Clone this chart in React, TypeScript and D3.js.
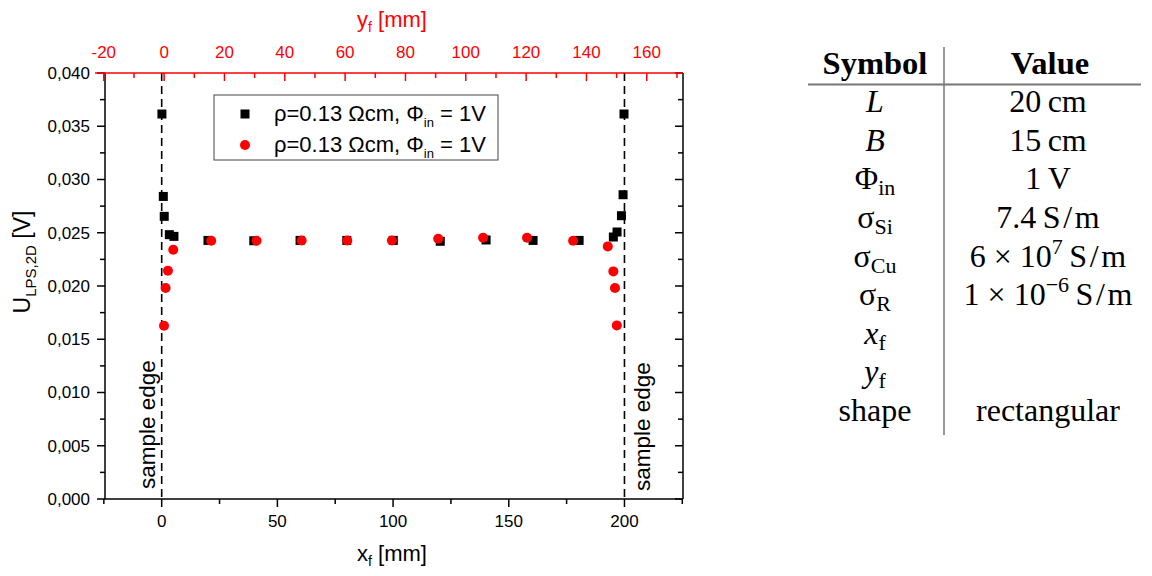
import React from "react";
import * as d3 from "d3";

const blackX = [0.1, 0.7, 1.1, 3.3, 5.3, 20, 39.8, 59.8, 80, 100.1, 120.4, 140.2, 160.5, 180.4, 195.2, 196.8, 198.7, 199.4, 199.8];
const blackY = [0.03615, 0.02841, 0.02654, 0.02482, 0.02466, 0.02428, 0.02425, 0.02428, 0.02428, 0.02428, 0.0242, 0.02432, 0.02428, 0.02428, 0.0246, 0.02507, 0.0266, 0.02857, 0.03615];
const redX = [1.0, 1.7, 2.7, 5.0, 21.4, 41.0, 60.5, 80.2, 99.5, 119.5, 138.9, 157.9, 177.8, 192.8, 195.2, 195.9, 196.7];
const redY = [0.01627, 0.01981, 0.02144, 0.02341, 0.02425, 0.02425, 0.02428, 0.02428, 0.02428, 0.02444, 0.02453, 0.02453, 0.02425, 0.02372, 0.02137, 0.01981, 0.0163];

const bottomMajor = [0, 50, 100, 150, 200];
const bottomMinor = [-25, 25, 75, 125, 175, 225];
const topMajor = [-20, 0, 20, 40, 60, 80, 100, 120, 140, 160];
const topMinor = [-10, 10, 30, 50, 70, 90, 110, 130, 150, 170];
const yMajor = [0, 0.005, 0.01, 0.015, 0.02, 0.025, 0.03, 0.035, 0.04];
const yMinor = [0.0025, 0.0075, 0.0125, 0.0175, 0.0225, 0.0275, 0.0325, 0.0375];
const edgeLines = [0, 200];

const tableSymbols = [
  { main: "L", sub: "", italic: true },
  { main: "B", sub: "", italic: true },
  { main: "Φ", sub: "in", italic: false },
  { main: "σ", sub: "Si", italic: false },
  { main: "σ", sub: "Cu", italic: false },
  { main: "σ", sub: "R", italic: false },
  { main: "x", sub: "f", italic: true },
  { main: "y", sub: "f", italic: true },
  { main: "shape", sub: "", italic: false },
];
const SM = "\u2009S\u200a/\u200am";
const tableValues = [
  { pre: "20\u2009cm", sup: "", post: "" },
  { pre: "15\u2009cm", sup: "", post: "" },
  { pre: "1\u2009V", sup: "", post: "" },
  { pre: "7.4" + SM, sup: "", post: "" },
  { pre: "6\u2005×\u200510", sup: "7", post: SM },
  { pre: "1\u2005×\u200510", sup: "−6", post: SM },
  { pre: "", sup: "", post: "" },
  { pre: "", sup: "", post: "" },
  { pre: "rectangular", sup: "", post: "" },
];

const fmt = (v: number) => d3.format(".3f")(v).replace(".", ",");

export default function App() {
  const L = 105, R = 683, T = 73, B = 499;
  const x = d3.scaleLinear().domain([-24.5, 225.3]).range([L, R]);
  const xTop = d3.scaleLinear().domain([-19.6, 172]).range([L, R]);
  const y = d3.scaleLinear().domain([0, 0.04]).range([B, T]);
  const sans = "'Liberation Sans', Arial, sans-serif";
  const serif = "'Liberation Serif', 'Times New Roman', serif";
  const red = "#ff0000";
  const rowY = d3.scaleLinear().domain([0, 8]).range([112, 421]);

  return (
    <svg width={1152} height={576} style={{ position: "absolute", left: 0, top: 0, background: "#fff" }}>
      <rect x={0} y={0} width={1152} height={576} fill="#fff" />
      {/* dashed edges */}
      {edgeLines.map((v) => (
        <line key={"e" + v} x1={x(v)} x2={x(v)} y1={T} y2={B} stroke="#000" strokeWidth={1.6} strokeDasharray="8,5" />
      ))}
      {/* frame */}
      <line x1={L} x2={L} y1={T} y2={B} stroke="#000" strokeWidth={1.5} />
      <line x1={R} x2={R} y1={T} y2={B} stroke="#000" strokeWidth={1.5} />
      <line x1={L} x2={R} y1={B} y2={B} stroke="#000" strokeWidth={1.5} />
      {/* left ticks */}
      {yMajor.map((v) => (
        <g key={"ly" + v}>
          <line x1={L - 8} x2={L} y1={y(v)} y2={y(v)} stroke="#000" strokeWidth={1.5} />
          <line x1={R - 8} x2={R} y1={y(v)} y2={y(v)} stroke="#000" strokeWidth={1.5} />
          <text x={L - 15} y={y(v)} dy="0.35em" textAnchor="end" fontFamily={sans} fontSize={17}>{fmt(v)}</text>
        </g>
      ))}
      {yMinor.map((v) => (
        <g key={"lym" + v}>
          <line x1={L - 5} x2={L} y1={y(v)} y2={y(v)} stroke="#000" strokeWidth={1.5} />
          <line x1={R - 5} x2={R} y1={y(v)} y2={y(v)} stroke="#000" strokeWidth={1.5} />
        </g>
      ))}
      {/* bottom ticks */}
      {bottomMajor.map((v) => (
        <g key={"bx" + v}>
          <line x1={x(v)} x2={x(v)} y1={B} y2={B + 8} stroke="#000" strokeWidth={1.5} />
          <text x={x(v)} y={527} textAnchor="middle" fontFamily={sans} fontSize={17}>{v}</text>
        </g>
      ))}
      {bottomMinor.map((v) => (
        <line key={"bxm" + v} x1={x(v)} x2={x(v)} y1={B} y2={B + 5} stroke="#000" strokeWidth={1.5} />
      ))}
      {/* top axis (red) */}
      <line x1={L - 10} x2={R} y1={T} y2={T} stroke={red} strokeWidth={1.5} />
      {topMajor.map((v) => (
        <g key={"tx" + v}>
          <line x1={xTop(v)} x2={xTop(v)} y1={T} y2={T + 8} stroke={red} strokeWidth={1.5} />
          <text x={xTop(v)} y={58} textAnchor="middle" fontFamily={sans} fontSize={17} fill={red}>{v}</text>
        </g>
      ))}
      {topMinor.map((v) => (
        <line key={"txm" + v} x1={xTop(v)} x2={xTop(v)} y1={T} y2={T + 5} stroke={red} strokeWidth={1.5} />
      ))}
      {/* titles */}
      <text x={392} y={27} textAnchor="middle" fontFamily={sans} fontSize={22} fill={red}>
        y<tspan fontSize={14} dy={5}>f</tspan><tspan dy={-5}> [mm]</tspan>
      </text>
      <text x={392} y={561} textAnchor="middle" fontFamily={sans} fontSize={22}>
        x<tspan fontSize={14} dy={5}>f</tspan><tspan dy={-5}> [mm]</tspan>
      </text>
      <text transform="translate(30,262) rotate(-90)" textAnchor="middle" fontFamily={sans} fontSize={23}>
        U<tspan fontSize={15} dy={6}>LPS,2D</tspan><tspan dy={-6}> [V]</tspan>
      </text>
      {/* sample edge labels */}
      <text transform={`translate(${x(0) - 7},489) rotate(-90)`} fontFamily={sans} fontSize={22.5}>sample edge</text>
      <text transform={`translate(${x(200) + 26},491) rotate(-90)`} fontFamily={sans} fontSize={22.5}>sample edge</text>
      {/* data */}
      {blackX.map((v, i) => (
        <rect key={"b" + i} x={x(v) - 4.5} y={y(blackY[i]) - 4.5} width={9} height={9} fill="#000" />
      ))}
      {redX.map((v, i) => (
        <circle key={"r" + i} cx={x(v)} cy={y(redY[i])} r={5} fill={red} />
      ))}
      {/* legend */}
      <rect x={214} y={95} width={284} height={65} fill="#fff" stroke="#444" strokeWidth={1} />
      <rect x={245 - 4.5} y={114 - 4.5} width={9} height={9} fill="#000" />
      <circle cx={245} cy={145} r={5} fill={red} />
      {[121, 152].map((by) => (
        <text key={"lg" + by} x={274} y={by} fontFamily={sans} fontSize={22}>
          ρ=0.13 Ωcm, Φ<tspan fontSize={13} dy={6}>in</tspan><tspan dy={-6}> = 1V</tspan>
        </text>
      ))}
      {/* table */}
      <line x1={944} x2={944} y1={47} y2={435} stroke="#555" strokeWidth={1.2} />
      <line x1={808} x2={1141} y1={84.5} y2={84.5} stroke="#777" strokeWidth={2} />
      <text x={875} y={74} textAnchor="middle" fontFamily={serif} fontSize={32.5} fontWeight="bold">Symbol</text>
      <text x={1050} y={74} textAnchor="middle" fontFamily={serif} fontSize={32.5} fontWeight="bold">Value</text>
      {tableSymbols.map((s, i) => (
        <text key={"s" + i} x={875} y={rowY(i)} textAnchor="middle" fontFamily={serif} fontSize={32}>
          <tspan fontStyle={s.italic ? "italic" : "normal"}>{s.main}</tspan>
          {s.sub ? <tspan fontSize={22} dy={6}>{s.sub}</tspan> : null}
        </text>
      ))}
      {tableValues.map((v, i) => (
        <text key={"v" + i} x={1048} y={rowY(i)} textAnchor="middle" fontFamily={serif} fontSize={32}>
          {v.pre}
          {v.sup ? <tspan fontSize={22} dy={-13}>{v.sup}</tspan> : null}
          {v.sup ? <tspan dy={13}>{v.post}</tspan> : v.post}
        </text>
      ))}
    </svg>
  );
}
